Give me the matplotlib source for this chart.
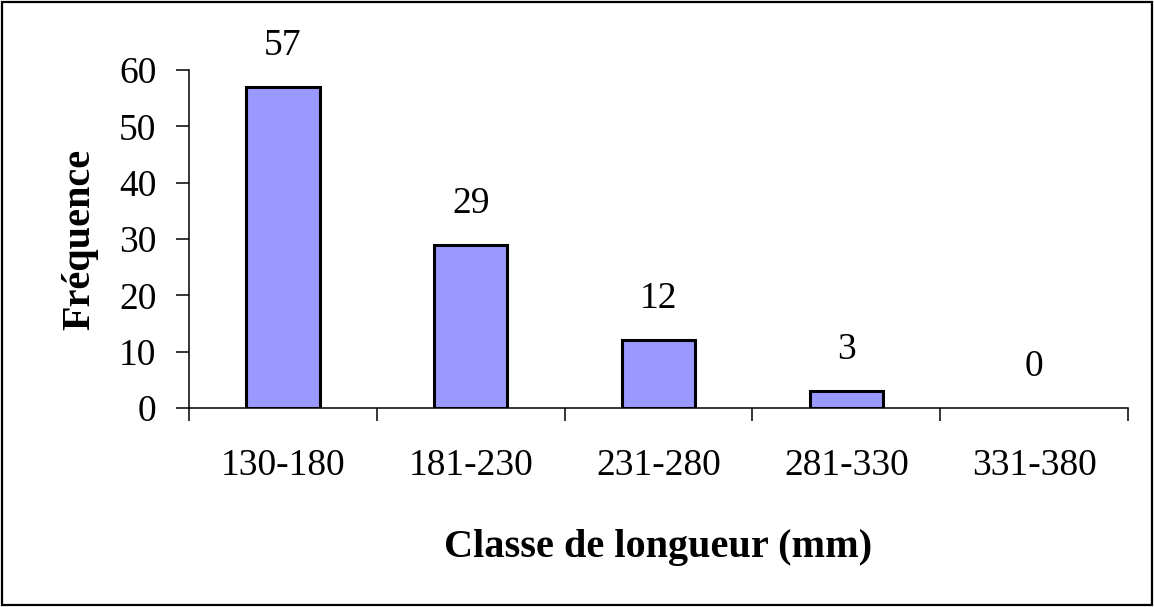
#!/usr/bin/env python3
"""Histogramme des classes de longueur (fréquences)."""

import matplotlib

matplotlib.use("Agg")
import matplotlib.pyplot as plt
from matplotlib.patches import Rectangle

CLASSES = ["130-180", "181-230", "231-280", "281-330", "331-380"]
FREQUENCES = [57, 29, 12, 3, 0]
Y_TICKS = [0, 10, 20, 30, 40, 50, 60]

BAR_COLOR = "#9999FF"
FONT = "Liberation Serif"
SIZE = 27
BOLD_SIZE = 29


def main() -> None:
    plt.rcParams["font.family"] = [FONT, "DejaVu Serif"]
    fig = plt.figure(figsize=(11.54, 6.07), dpi=100)
    ax = fig.add_axes([189 / 1154, 1 - 408 / 607, (1128 - 189) / 1154, (408 - 70) / 607])

    positions = list(range(len(CLASSES)))
    bars = ax.bar(positions, FREQUENCES, width=0.39, color=BAR_COLOR,
                  edgecolor="black", linewidth=2.2, zorder=3)
    for bar, v in zip(bars, FREQUENCES):
        if v == 0:
            bar.set_linewidth(0)
    for x, v in zip(positions, FREQUENCES):
        ax.annotate(str(v), (x, v), xytext=(0, 23), textcoords="offset points",
                    ha="center", va="baseline", fontsize=SIZE)

    ax.set_xlim(-0.5, len(CLASSES) - 0.5)
    ax.set_ylim(0, 60)
    ax.set_yticks(Y_TICKS)
    ax.set_xticks([p - 0.5 for p in positions] + [len(CLASSES) - 0.5])
    ax.set_xticklabels([])
    ax.set_xticks(positions, minor=True)
    ax.set_xticklabels(CLASSES, minor=True)

    for side in ("top", "right"):
        ax.spines[side].set_visible(False)
    for side in ("left", "bottom"):
        ax.spines[side].set_linewidth(1.1)
        ax.spines[side].set_zorder(4)

    ax.tick_params(axis="y", which="major", length=9.5, width=1.1,
                   labelsize=SIZE, pad=14)
    ax.tick_params(axis="x", which="major", length=9, width=1.1)
    ax.tick_params(axis="x", which="minor", length=0, labelsize=SIZE, pad=29)

    fig.text(80 / 1154, 1 - 239 / 607, "Fréquence", fontsize=BOLD_SIZE,
             fontweight="bold", rotation=90, ha="center", va="center")
    fig.text(658 / 1154, 1 - 548 / 607, "Classe de longueur (mm)", fontsize=BOLD_SIZE,
             fontweight="bold", ha="center", va="center")

    fig.patches.append(Rectangle((2 / 1154, 2 / 607), 1150 / 1154, 603 / 607,
                                 transform=fig.transFigure, fill=False,
                                 edgecolor="black", linewidth=1.6))

    fig.savefig("out.png", dpi=100)


if __name__ == "__main__":
    main()
